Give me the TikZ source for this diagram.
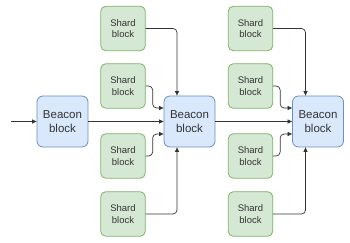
\documentclass[tikz,border=0pt]{standalone}
\usepackage{fontspec}
\setmainfont{Liberation Sans}
\usepackage{xcolor}
\usetikzlibrary{arrows.meta}
\definecolor{beaconfill}{HTML}{DAE8FC}
\definecolor{beacondraw}{HTML}{6C8EBF}
\definecolor{shardfill}{HTML}{D5E8D4}
\definecolor{sharddraw}{HTML}{82B366}
\definecolor{inkgray}{HTML}{333333}

\begin{document}
\begin{tikzpicture}[
  x=1pt,y=1pt,
  beacon/.style={rounded corners=6pt,draw=beacondraw,fill=beaconfill,thick,align=center,minimum width=51pt,minimum height=51pt,inner sep=0pt,text=inkgray,font=\fontsize{11.5}{13.3}\selectfont},
  shard/.style={rounded corners=5pt,draw=sharddraw,fill=shardfill,thick,align=center,minimum width=44.5pt,minimum height=44.5pt,inner sep=0pt,text=inkgray,font=\fontsize{9.5}{11.3}\selectfont},
  arr/.style={-{Triangle[length=4.5pt,width=4pt]},draw=inkgray,line width=0.7pt,rounded corners=4pt}
]
\useasboundingbox (0,0) rectangle (350,243);
\coordinate (start) at (11,121.5);
\node[beacon] (b1) at (62.5,121.5) {Beacon\\block};
\node[beacon] (b2) at (189.5,121.5) {Beacon\\block};
\node[beacon] (b3) at (318,121.5) {Beacon\\block};
\foreach \col/\cx in {1/123,2/250.5}{
  \node[shard] (s\col a) at (\cx,214.5) {Shard\\block};
  \node[shard] (s\col b) at (\cx,157) {Shard\\block};
  \node[shard] (s\col c) at (\cx,87) {Shard\\block};
  \node[shard] (s\col d) at (\cx,29) {Shard\\block};
}

\draw[arr] (start)--(b1);
\draw[arr] (b1)--(b2);
\draw[arr] (b2)--(b3);
\foreach \col/\bk in {1/b2,2/b3}{
  \draw[arr] (s\col a.east) -| ([xshift=-12.5pt]\bk.north);
  \draw[arr] (s\col b.east) -- ++(7,0) |- ([yshift=13.5pt]\bk.west);
  \draw[arr] (s\col c.east) -- ++(7,0) |- ([yshift=-12.5pt]\bk.west);
  \draw[arr] (s\col d.east) -| ([xshift=-12.5pt]\bk.south);
}
\end{tikzpicture}
\end{document}
